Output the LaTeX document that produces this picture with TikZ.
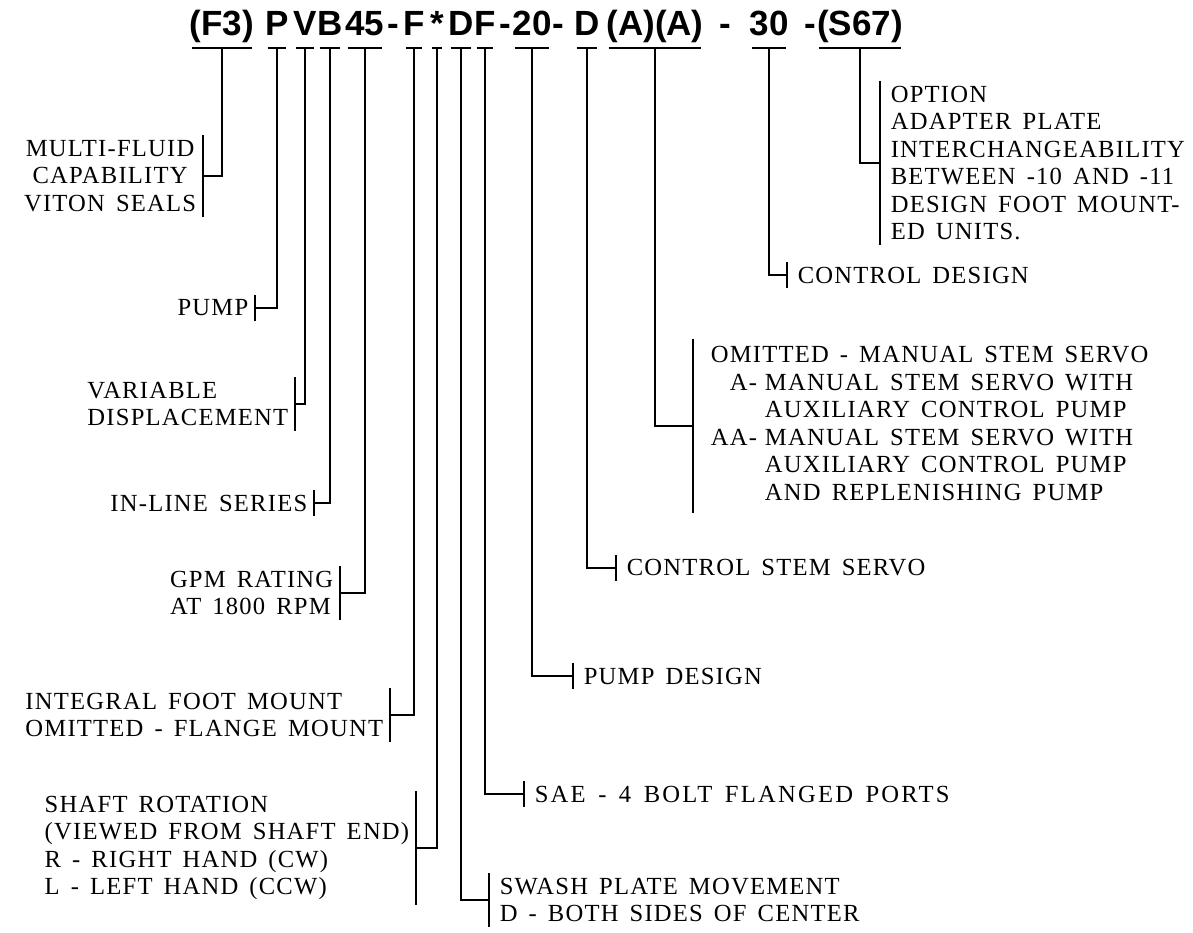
\documentclass[tikz,border=0pt]{standalone}
\usepackage{fontspec}
\usepackage{tikz}
\newfontfamily\codefont{Liberation Sans}
\newfontfamily\lblfont[LetterSpace=5, WordSpace=1.5]{Liberation Serif}
\tikzset{
  codepart/.style={font=\codefont\bfseries\fontsize{17.5}{19}\selectfont, inner sep=0pt, anchor=base},
  lblL/.style={font=\lblfont\fontsize{12.3}{13.75}\selectfont, inner xsep=3pt, inner ysep=2pt, anchor=east},
  lblR/.style={font=\lblfont\fontsize{12.3}{13.75}\selectfont, inner xsep=5pt, inner ysep=2pt, anchor=west}
}

\begin{document}
\begin{tikzpicture}[x=0.5pt, y=-0.5pt, line width=0.8pt]
  \useasboundingbox (0,0) rectangle (1193,932);
  % model code
  \node[codepart] (f3) at (222,35) {(F3)};
  \node[codepart] (p) at (277,35) {P};
  \node[codepart] (v) at (305,35) {V};
  \node[codepart] (b) at (330,35) {B};
  \node[codepart] (n45) at (365,35) {45};
  \node[codepart] (dash1) at (393,35) {-};
  \node[codepart] (f) at (414,35) {F};
  \node[codepart] (star) at (437,35) {*};
  \node[codepart] (d) at (461,35) {D};
  \node[codepart] (fl) at (485,35) {F};
  \node[codepart] (dash2) at (505,35) {-};
  \node[codepart] (n20) at (532,35) {20};
  \node[codepart] (dash3) at (558,35) {-};
  \node[codepart] (d2) at (587,35) {D};
  \node[codepart] (aa) at (655,35) {(A)(A)};
  \node[codepart] (dash4) at (725,35) {-};
  \node[codepart] (n30) at (769,35) {30};
  \node[codepart] (dash5) at (810,35) {-};
  \node[codepart] (s67) at (860,35) {(S67)};
  \coordinate (barline) at (0,48);
  \foreach \k in {f3,p,v,b,n45,f,star,d,fl,n20,d2,aa,n30,s67}
    \draw ([xshift=1.5pt]\k.west |- barline) -- ([xshift=-1.5pt]\k.east |- barline);

  % left side
  \node[lblL, align=center] (multi) at (203,176) {MULTI-FLUID\\CAPABILITY\\VITON SEALS};
  \node[lblL] (pumplbl) at (255,308) {PUMP};
  \node[lblL, align=left] (vardisp) at (295,404) {VARIABLE\\DISPLACEMENT};
  \node[lblL] (inline) at (314,503) {IN-LINE SERIES};
  \node[lblL, align=left] (gpm) at (340,593) {GPM RATING\\AT 1800 RPM};
  \node[lblL, align=left] (mount) at (390,715) {INTEGRAL FOOT MOUNT\\OMITTED - FLANGE MOUNT};
  \node[lblL, align=left] (shaft) at (416,848) {SHAFT ROTATION\\(VIEWED FROM SHAFT END)\\R - RIGHT HAND (CW)\\L - LEFT HAND (CCW)};

  % right side
  \node[lblR, align=left] (option) at (880,163) {OPTION\\ADAPTER PLATE\\INTERCHANGEABILITY\\BETWEEN -10 AND -11\\DESIGN FOOT MOUNT-\\ED UNITS.};
  \node[lblR] (ctrldes) at (787,275) {CONTROL DESIGN};
  \node[lblR, inner xsep=8.5pt] (servo) at (693,426) {\begin{tabular}{@{}r@{\hspace{4pt}}l@{}}
    \multicolumn{2}{@{}l@{}}{OMITTED - MANUAL STEM SERVO}\\
    A- & MANUAL STEM SERVO WITH\\
       & AUXILIARY CONTROL PUMP\\
    AA- & MANUAL STEM SERVO WITH\\
       & AUXILIARY CONTROL PUMP\\
       & AND REPLENISHING PUMP
  \end{tabular}};
  \node[lblR] (stem) at (616,568) {CONTROL STEM SERVO};
  \node[lblR] (pumpdes) at (573,676) {PUMP DESIGN};
  \node[lblR] (sae) at (524,794) {\addfontfeature{LetterSpace=9}SAE - 4 BOLT FLANGED PORTS};
  \node[lblR, align=left] (swash) at (489,900) {SWASH PLATE MOVEMENT\\D - BOTH SIDES OF CENTER};

  % brackets
  \foreach \n in {multi,pumplbl,vardisp,inline,gpm,mount,shaft}
    \draw (\n.north east) -- (\n.south east);
  \foreach \n in {option,ctrldes,servo,stem,pumpdes,sae,swash}
    \draw (\n.north west) -- (\n.south west);

  % leaders
  \draw (f3 |- barline) |- (multi.east);
  \draw (p |- barline) |- (pumplbl.east);
  \draw (v |- barline) |- (vardisp.east);
  \draw (b |- barline) |- (inline.east);
  \draw (n45 |- barline) |- (gpm.east);
  \draw (f |- barline) |- (mount.east);
  \draw (star |- barline) |- (shaft.east);
  \draw (d |- barline) |- (swash.west);
  \draw (fl |- barline) |- (sae.west);
  \draw (n20 |- barline) |- (pumpdes.west);
  \draw (d2 |- barline) |- (stem.west);
  \draw (aa |- barline) |- (servo.west);
  \draw (n30 |- barline) |- (ctrldes.west);
  \draw (s67 |- barline) |- (option.west);
\end{tikzpicture}
\end{document}
